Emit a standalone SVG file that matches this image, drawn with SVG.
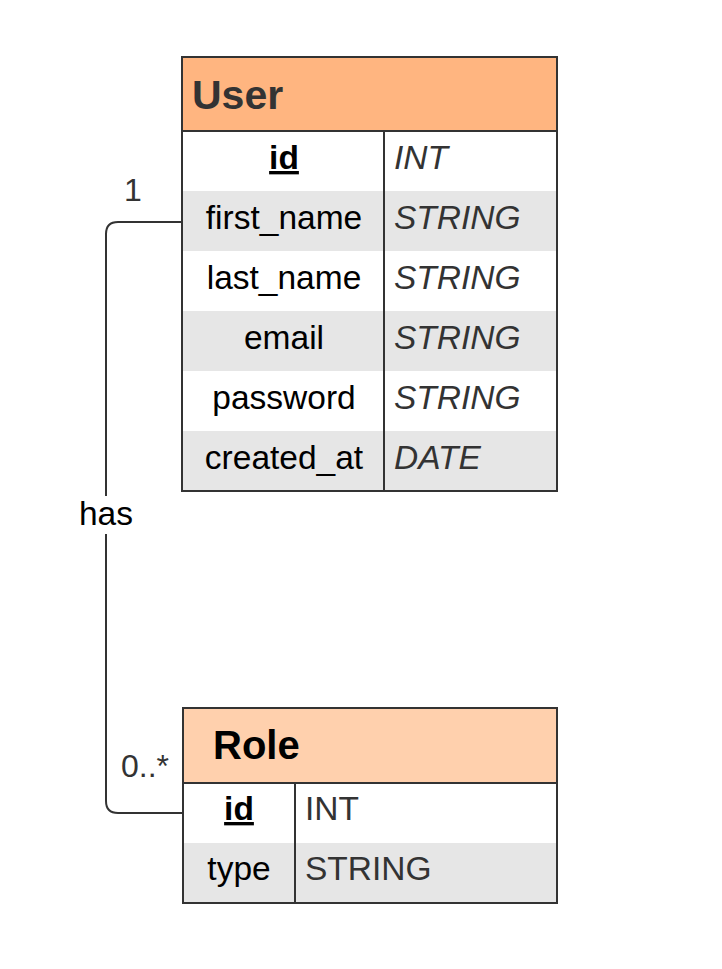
<svg xmlns="http://www.w3.org/2000/svg" width="722" height="969" viewBox="0 0 722 969">
<style>
text{font-family:"Liberation Sans",Arial,sans-serif}
.hdr{font-weight:bold;font-size:40px}
.nm{font-size:33.5px;fill:#000;text-anchor:middle}
.ty{font-size:33.5px;fill:#333}
.it{font-style:italic}
.pk{font-weight:bold;text-decoration:underline}
.box{fill:none;stroke:#333;stroke-width:2}
.alt{fill:#e6e6e6}
.lbl{font-size:32px;fill:#333}
</style>
<rect width="722" height="969" fill="#fff"/>
<g id="connectors">
<path d="M182 222 H118 Q106 222 106 234 V801 Q106 813 118 813 H183" fill="none" stroke="#333" stroke-width="2"/>
<rect x="74" y="496" width="64" height="38" fill="#fff"/>
<text x="106" y="525" font-size="33.5" fill="#000" text-anchor="middle">has</text>
<text x="133" y="201" class="lbl" text-anchor="middle">1</text>
<text x="145" y="777" class="lbl" text-anchor="middle">0..*</text>
</g>
<g id="User">
<rect x="182" y="57" width="375" height="74" fill="#ffb580"/>
<rect x="182" y="131" width="375" height="60" fill="#fff"/>
<rect x="182" y="191" width="375" height="60" class="alt"/>
<rect x="182" y="251" width="375" height="60" fill="#fff"/>
<rect x="182" y="311" width="375" height="60" class="alt"/>
<rect x="182" y="371" width="375" height="60" fill="#fff"/>
<rect x="182" y="431" width="375" height="60" class="alt"/>
<rect x="182" y="57" width="375" height="434" class="box"/>
<line x1="182" y1="131" x2="557" y2="131" stroke="#333" stroke-width="2"/>
<line x1="384" y1="131" x2="384" y2="491" stroke="#333" stroke-width="2"/>
<text x="192" y="109" class="hdr" fill="#333" style="font-size:41px">User</text>
<text x="284" y="169" class="nm pk">id</text>
<text x="284" y="229" class="nm">first_name</text>
<text x="284" y="289" class="nm">last_name</text>
<text x="284" y="349" class="nm">email</text>
<text x="284" y="409" class="nm">password</text>
<text x="284" y="469" class="nm">created_at</text>
<text x="394" y="169" class="ty it">INT</text>
<text x="394" y="229" class="ty it">STRING</text>
<text x="394" y="289" class="ty it">STRING</text>
<text x="394" y="349" class="ty it">STRING</text>
<text x="394" y="409" class="ty it">STRING</text>
<text x="394" y="469" class="ty it">DATE</text>
</g>
<g id="Role">
<rect x="183" y="708" width="374" height="75" fill="#ffd0ad"/>
<rect x="183" y="783" width="374" height="60" fill="#fff"/>
<rect x="183" y="843" width="374" height="60" class="alt"/>
<rect x="183" y="708" width="374" height="195" class="box"/>
<line x1="183" y1="783" x2="557" y2="783" stroke="#333" stroke-width="2"/>
<line x1="295" y1="783" x2="295" y2="903" stroke="#333" stroke-width="2"/>
<text x="213" y="759" class="hdr" fill="#000">Role</text>
<text x="239" y="820" class="nm pk">id</text>
<text x="239" y="880" class="nm">type</text>
<text x="305" y="820" class="ty">INT</text>
<text x="305" y="880" class="ty">STRING</text>
</g>
</svg>
